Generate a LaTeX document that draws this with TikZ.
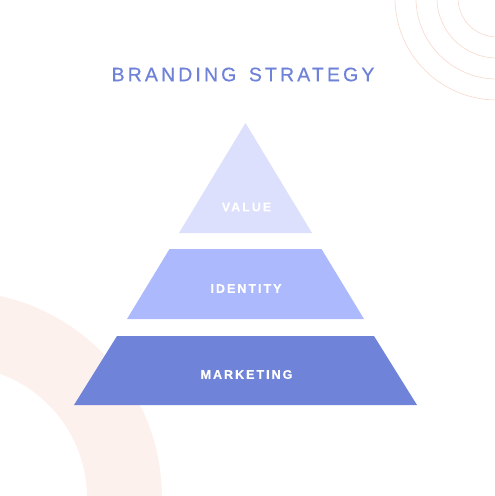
\documentclass[tikz,border=0pt]{standalone}
\usepackage{fontspec}
\setmainfont{Liberation Sans}
\newfontfamily\titlefont[LetterSpace=16,FakeBold=0.6]{Liberation Sans}
\newfontfamily\layerfont[LetterSpace=16,FakeBold=0.5]{Liberation Sans}
\definecolor{titleblue}{HTML}{6F82D8}
\definecolor{valuefill}{HTML}{DCE0FC}
\definecolor{identityfill}{HTML}{ADB9FD}
\definecolor{marketingfill}{HTML}{6F83D8}
\definecolor{ringpink}{HTML}{FDF1EE}
\definecolor{arcpeach}{HTML}{F8DCD2}
\tikzset{layerlabel/.style={text=white,font=\layerfont\bfseries\fontsize{12.5}{13}\selectfont,inner sep=0pt}}
\begin{document}
\begin{tikzpicture}[x=1pt,y=-1pt]
\useasboundingbox (0,0) rectangle (495,496);
\begin{scope}
\clip (0,0) rectangle (495,496);
\fill[ringpink,even odd rule] (-45,498) circle (207) (-45,498) circle (132);
\foreach \r in {39,60,81,102} \draw[arcpeach,line width=0.7pt] (497,-2) circle (\r);
\end{scope}
\node[text=titleblue,font=\titlefont\fontsize{19.5}{20}\selectfont,inner sep=0pt] (title) at (243,74.5) {BRANDING\hspace{4pt} STRATEGY};
\coordinate (apex) at (245.5,123);
\fill[valuefill] (apex) -- (312,233) -- (179,233) -- cycle;
\fill[identityfill] (169.5,249) -- (321.5,249) -- (364,319) -- (127,319) -- cycle;
\fill[marketingfill] (117,336) -- (374,336) -- (417,405) -- (74,405) -- cycle;
\node[layerlabel] (value) at (246.5,207) {VALUE};
\node[layerlabel] (identity) at (246,288.5) {IDENTITY};
\node[layerlabel] (marketing) at (246.5,374.5) {MARKETING};
\end{tikzpicture}
\end{document}
